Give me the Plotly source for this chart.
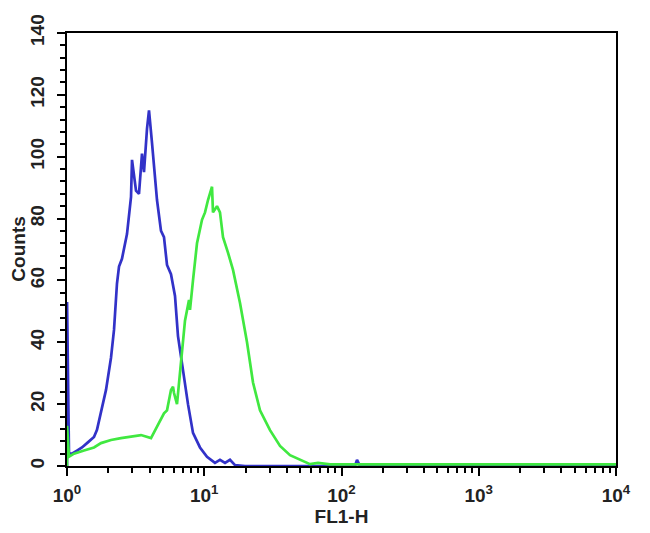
import plotly.graph_objects as go

# ---- data (FL1-H value, counts) ----
blue_x = [1.0, 1.001, 1.034, 1.087, 1.183, 1.286, 1.399, 1.496, 1.573, 1.654, 1.769,
          1.924, 2.092, 2.200, 2.313, 2.393, 2.515, 2.736, 2.927, 2.976, 3.183,
          3.346, 3.519, 3.639, 3.827, 3.958, 4.162, 4.305, 4.526, 4.841, 5.089,
          5.354, 5.724, 6.122, 6.437, 7.000, 7.613, 8.279, 9.311, 10.47, 11.97,
          13.02, 14.17, 15.40, 16.75, 19.81, 115.3, 125.4, 129.7, 136.4, 10000]
blue_y = [0, 53, 4, 4, 5, 6, 7.4, 8.4, 9.4, 11.7, 17,
          24.6, 35, 44, 59, 64.5, 67, 75, 87, 99, 89,
          88, 101, 95, 109, 115, 104.5, 97, 86, 76, 74,
          65, 62, 55, 42, 31, 20, 10.7, 6, 3, 1,
          2, 1, 2, 0.3, 0, 0, 0, 2, 0, 0]

green_x = [1.0, 1.001, 1.034, 1.125, 1.330, 1.573, 1.769, 2.092, 2.474, 2.927, 3.461,
           4.093, 4.526, 5.089, 5.354, 5.724, 5.920, 6.020, 6.331, 6.659, 7.239,
           7.742, 7.873, 8.279, 8.855, 9.630, 10.13, 10.65, 11.39, 11.58, 12.38,
           13.02, 13.70, 14.89, 16.20, 18.22, 20.49, 22.66, 25.48, 30.14, 35.65,
           42.16, 49.85, 58.96, 67.44, 82.46, 10000]
green_y = [0, 13, 3, 4, 5, 6, 7.4, 8.4, 9, 9.4, 10,
           9, 12.6, 17, 18, 24.6, 25.6, 23.6, 20, 31, 47,
           53.7, 50.5, 60, 72, 79.6, 82, 86, 90.3, 82, 84,
           82, 74, 69, 63.4, 52.7, 40, 27, 18, 11.6, 6.5,
           3.5, 2, 0.6, 1, 0.5, 0.5]

x_tickvals = [1, 10, 100, 1000, 10000]
x_ticktext = ["10<sup>0</sup>", "10<sup>1</sup>", "10<sup>2</sup>",
              "10<sup>3</sup>", "10<sup>4</sup>"]
x_minor = [m * d for d in (1, 10, 100, 1000) for m in range(2, 10)]
y_tickvals = [0, 20, 40, 60, 80, 100, 120, 140]

FONT = "Liberation Sans, Arial, sans-serif"

fig = go.Figure()
fig.add_trace(go.Scatter(x=blue_x, y=blue_y, mode="lines",
                         line=dict(color="#3232c8", width=2.7),
                         showlegend=False))
fig.add_trace(go.Scatter(x=green_x, y=green_y, mode="lines",
                         line=dict(color="#40e840", width=2.7),
                         showlegend=False))

# the page body adds an 8px offset; margins compensate so the plot box sits at 67..616 x 33..466
fig.update_layout(
    width=650, height=533, autosize=False,
    margin=dict(l=59, r=42, t=25, b=75),
    paper_bgcolor="white", plot_bgcolor="white",
    font=dict(family=FONT, color="#222"),
)
fig.update_xaxes(
    type="log", range=[0, 4],
    tickmode="array", tickvals=x_tickvals, ticktext=x_ticktext,
    tickfont=dict(size=19, family=FONT, weight="bold", color="#222"),
    ticks="outside", ticklen=8, tickwidth=2, tickcolor="black",
    ticklabelstandoff=3,
    minor=dict(tickmode="array", tickvals=x_minor, ticks="outside",
               ticklen=5, tickwidth=2, tickcolor="black"),
    showline=True, linecolor="black", linewidth=2, mirror=True,
    showgrid=False, zeroline=False, automargin=False,
    title=dict(text="FL1-H", font=dict(size=19, family=FONT, weight="bold", color="#222"),
               standoff=4),
)
fig.update_yaxes(
    range=[0, 140],
    tickmode="array", tickvals=y_tickvals, tickangle=-90,
    tickfont=dict(size=19, family=FONT, weight="bold", color="#222"),
    ticks="outside", ticklen=8, tickwidth=2, tickcolor="black",
    ticklabelstandoff=5,
    minor=dict(dtick=4, ticks="outside", ticklen=5, tickwidth=2, tickcolor="black"),
    showline=True, linecolor="black", linewidth=2, mirror=True,
    showgrid=False, zeroline=False, automargin=False,
)
fig.add_annotation(
    text="Counts", xref="paper", yref="paper", x=-0.089, y=0.5,
    xanchor="center", yanchor="middle", textangle=-90, showarrow=False,
    font=dict(size=19, family=FONT, weight="bold", color="#222"),
)

fig.write_html("out.html")
